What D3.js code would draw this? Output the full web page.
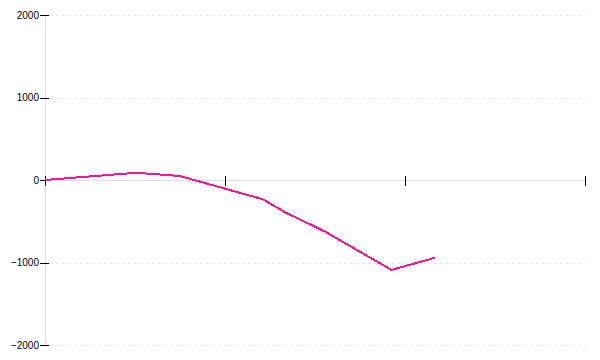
<!DOCTYPE html>
<html><head><meta charset="utf-8">
<script src="https://cdn.jsdelivr.net/npm/d3@7"></script>
<style>body{margin:0;background:#fff}svg{display:block}</style>
</head><body>
<svg id="c" width="600" height="360" shape-rendering="crispEdges"></svg>
<script>
const xValues = [0, 2.03, 3, 4.84, 5.33, 6.22, 7.7, 8.67];
const yValues = [0, 88, 48, -234, -390, -625, -1090, -942];
const yTicks = [-2000, -1000, 0, 1000, 2000];
const xTicks = [0, 4, 8, 12];

const svg = d3.select("#c");
const x = d3.scaleLinear().domain([0, 12]).range([45, 585]);
const y = d3.scaleLinear().domain([-2000, 2000]).range([345, 15]);

// grid
svg.append("g").selectAll("line").data(yTicks.filter(d => d !== 0)).join("line")
  .attr("x1", 50).attr("x2", 585)
  .attr("y1", d => Math.round(y(d)) + 0.5).attr("y2", d => Math.round(y(d)) + 0.5)
  .attr("stroke", "#e8e8e8").attr("stroke-dasharray", "3,3");

// y axis line
svg.append("line").attr("x1", 45.5).attr("x2", 45.5).attr("y1", y(2000)).attr("y2", y(-2000))
  .attr("stroke", "#ddd");
// x axis line
svg.append("line").attr("x1", 45).attr("x2", 585).attr("y1", Math.round(y(0)) + 0.5).attr("y2", Math.round(y(0)) + 0.5)
  .attr("stroke", "#ddd");

// y ticks
const yAxis = d3.axisLeft(y).tickValues(yTicks).tickSize(0).tickPadding(6)
  .tickFormat(d => d3.format("d")(d).replace("-", "\u2212"));
const gy = svg.append("g").attr("transform", "translate(45,0)").call(yAxis);
gy.select(".domain").remove();
gy.selectAll("text").attr("font-family", "Liberation Sans, Arial, sans-serif").attr("font-size", 10).attr("fill", "#000");
svg.append("g").selectAll("line").data(yTicks).join("line")
  .attr("x1", 40).attr("x2", 49)
  .attr("y1", d => Math.round(y(d)) + 0.5).attr("y2", d => Math.round(y(d)) + 0.5)
  .attr("stroke", "#000");

// x ticks
svg.append("g").selectAll("line").data(xTicks).join("line")
  .attr("x1", d => Math.round(x(d)) + 0.5).attr("x2", d => Math.round(x(d)) + 0.5)
  .attr("y1", y(0) - 4).attr("y2", y(0) + 6)
  .attr("stroke", "#000");

// line
const data = xValues.map((d, i) => [d, yValues[i]]);
svg.append("path").datum(data)
  .attr("fill", "none").attr("stroke", "#ff1493").attr("stroke-width", 2)
  .attr("d", d3.line().x(d => x(d[0])).y(d => y(d[1])));
</script>
</body></html>
